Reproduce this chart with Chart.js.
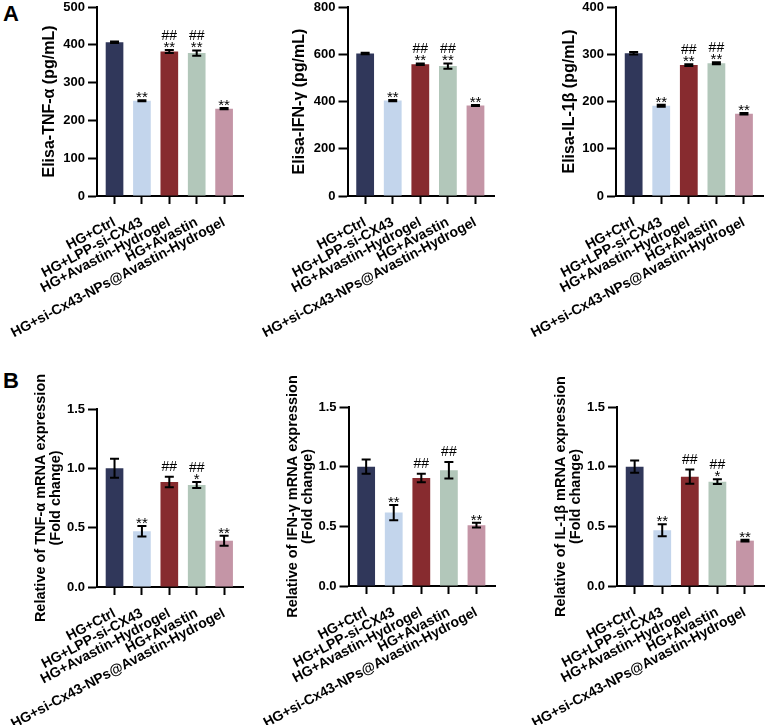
<!DOCTYPE html>
<html>
<head>
<meta charset="utf-8">
<script src="https://cdn.jsdelivr.net/npm/chart.js@4.4.1/dist/chart.umd.min.js"></script>
<style>
  body { margin: 0; background: #fff; width: 765px; height: 725px; overflow: hidden; position: relative; font-family: 'Liberation Sans', Arial, sans-serif; }
  canvas { position: absolute; }
  .letter { position: absolute; font-weight: bold; font-size: 22px; color: #000; }
</style>
</head>
<body>
<div class="letter" style="left:3px;top:1px">A</div>
<div class="letter" style="left:3px;top:368px">B</div>
<canvas id="a1"></canvas>
<canvas id="a2"></canvas>
<canvas id="a3"></canvas>
<canvas id="b1"></canvas>
<canvas id="b2"></canvas>
<canvas id="b3"></canvas>
<script>
// groups and colours
const groups = ['HG+Ctrl', 'HG+LPP-si-CX43', 'HG+Avastin-Hydrogel', 'HG+Avastin', 'HG+si-Cx43-NPs@Avastin-Hydrogel'];
const barColors = ['#30375a', '#c3d5ec', '#872b2f', '#b2c7ba', '#c495a6'];

// ELISA, pg/mL (mean, sd)
const elisaTnf = [407, 252, 382, 378, 231];
const elisaTnfSd = [2, 1.5, 4, 7, 1.5];
const elisaIfn = [603, 404, 558, 550, 383];
const elisaIfnSd = [3, 2.5, 3, 11, 2.5];
const elisaIl1b = [302, 191, 277, 281, 174];
const elisaIl1bSd = [2.5, 2, 2, 2, 1.5];

// qPCR, fold change (mean, sd)
const mrnaTnf = [1.00, 0.47, 0.885, 0.86, 0.39];
const mrnaTnfSd = [0.08, 0.045, 0.045, 0.025, 0.042];
const mrnaIfn = [1.00, 0.615, 0.905, 0.97, 0.51];
const mrnaIfnSd = [0.06, 0.063, 0.035, 0.07, 0.02];
const mrnaIl1b = [1.00, 0.467, 0.916, 0.874, 0.38];
const mrnaIl1bSd = [0.052, 0.05, 0.06, 0.02, 0.007];

// significance marks above bars
const starsElisa = ['', '**', '**', '**', '**'];
const starsTnfMrna = ['', '**', '', '*', '**'];
const starsIfnMrna = ['', '**', '', '', '**'];
const starsIl1bMrna = ['', '**', '', '*', '**'];
const hashes = ['', '', '##', '##', ''];

// y tick labels
const tnfElisaTicks = [0, 100, 200, 300, 400, 500];
const ifnElisaTicks = [0, 200, 400, 600, 800];
const il1bElisaTicks = [0, 100, 200, 300, 400];
const foldTicks = [0, 0.5, 1.0, 1.5];

Chart.defaults.font.family = "'Liberation Sans', Arial, sans-serif";
Chart.defaults.color = '#000';

// error bars + significance text
const sigBars = {
    id: 'sigBars',
    afterDatasetsDraw(chart, args, opts) {
        const ctx = chart.ctx;
        const yScale = chart.scales.y;
        const bars = chart.getDatasetMeta(0).data;
        const points = chart.data.datasets[0].data;
        ctx.save();
        ctx.strokeStyle = '#000';
        ctx.fillStyle = '#000';
        ctx.lineWidth = 2;
        ctx.textAlign = 'center';
        ctx.textBaseline = 'alphabetic';
        bars.forEach((bar, i) => {
            const v = points[i].y;
            const e = opts.sd[i];
            const top = yScale.getPixelForValue(v + e);
            const bot = yScale.getPixelForValue(v - e);
            const half = 4.5;
            ctx.beginPath();
            ctx.moveTo(bar.x, top); ctx.lineTo(bar.x, bot);
            ctx.moveTo(bar.x - half, top); ctx.lineTo(bar.x + half, top);
            ctx.moveTo(bar.x - half, bot); ctx.lineTo(bar.x + half, bot);
            ctx.stroke();

            let base = top - 6;
            if (opts.stars[i]) {
                ctx.font = "15px 'Liberation Sans', Arial, sans-serif";
                ctx.fillText(opts.stars[i], bar.x, top + 2);
                base = top - 10;
            }
            if (opts.hashes[i]) {
                ctx.font = "14px 'Liberation Sans', Arial, sans-serif";
                ctx.fillText(opts.hashes[i], bar.x, base);
            }
        });
        ctx.restore();
    }
};

function makePanel(id, box, values, sd, stars, ticks, title, decimals) {
    const canvas = document.getElementById(id);
    canvas.width = box.width;
    canvas.height = box.height;
    canvas.style.left = box.left + 'px';
    canvas.style.top = box.top + 'px';
    canvas.style.width = box.width + 'px';
    canvas.style.height = box.height + 'px';

    const multi = Array.isArray(title);
    const titleSize = multi ? 14.5 : 16;
    const lineH = multi ? 15 : 16;

    return new Chart(canvas, {
        type: 'bar',
        data: {
            datasets: [{
                data: values.map((v, i) => ({ x: i + 1, y: v })),
                backgroundColor: barColors,
                barPercentage: 0.645,
                categoryPercentage: 1
            }]
        },
        options: {
            responsive: false,
            animation: false,
            layout: {
                padding: {
                    left: 0,
                    top: box.plotTop - box.top,
                    right: box.left + box.width - box.plotRight,
                    bottom: 0
                }
            },
            plugins: {
                legend: { display: false },
                tooltip: { enabled: false },
                sigBars: { sd, stars, hashes }
            },
            scales: {
                x: {
                    type: 'linear',
                    offset: false,
                    bounds: 'data',
                    min: 0.36,
                    max: 5.69,
                    afterBuildTicks: s => { s.ticks = groups.map((g, i) => ({ value: i + 1 })); },
                    afterFit: s => {
                        s.height = box.top + box.height - box.plotBottom;
                        s.paddingLeft = 0;
                        s.paddingRight = 0;
                    },
                    ticks: {
                        autoSkip: false,
                        minRotation: 28,
                        maxRotation: 28,
                        padding: 10,
                        color: '#000',
                        font: { size: 14, weight: 'bold' },
                        callback: v => groups[Math.round(v) - 1]
                    },
                    grid: { offset: false, drawOnChartArea: false, tickLength: 8, tickWidth: 2, tickColor: '#000' },
                    border: { color: '#000', width: 2 }
                },
                y: {
                    min: ticks[0],
                    max: ticks[ticks.length - 1],
                    afterBuildTicks: s => { s.ticks = ticks.map(v => ({ value: v })); },
                    afterFit: s => {
                        s.width = box.axisX - box.left;
                        s.paddingTop = 0;
                        s.paddingBottom = 0;
                    },
                    ticks: {
                        padding: 3,
                        color: '#000',
                        font: { size: 13, weight: 'bold' },
                        callback: v => v.toFixed(decimals)
                    },
                    grid: { drawOnChartArea: false, tickLength: 9, tickWidth: 2, tickColor: '#000' },
                    border: { color: '#000', width: 2 },
                    title: {
                        display: true,
                        text: title,
                        color: '#000',
                        font: { size: titleSize, weight: 'bold', lineHeight: lineH / titleSize },
                        padding: { top: box.titleCenter - box.left - lineH / 2, bottom: 0 }
                    }
                }
            }
        },
        plugins: [sigBars]
    });
}

// panel placement on the page
const layoutA1 = { left: 0, top: 0, width: 250, height: 360, axisX: 97, plotRight: 243, plotTop: 7, plotBottom: 196, titleCenter: 49.5 };
const layoutA2 = { left: 250, top: 0, width: 250, height: 360, axisX: 347.5, plotRight: 494.5, plotTop: 7, plotBottom: 196, titleCenter: 299.5 };
const layoutA3 = { left: 519, top: 0, width: 246, height: 360, axisX: 616, plotRight: 763, plotTop: 7, plotBottom: 196, titleCenter: 569.5 };
const layoutB1 = { left: 0, top: 360, width: 250, height: 365, axisX: 97, plotRight: 243, plotTop: 409, plotBottom: 587, titleCenter: 41 };
const layoutB2 = { left: 250, top: 360, width: 250, height: 365, axisX: 348.5, plotRight: 495.5, plotTop: 407, plotBottom: 586, titleCenter: 292.5 };
const layoutB3 = { left: 519, top: 360, width: 246, height: 365, axisX: 617, plotRight: 764, plotTop: 407, plotBottom: 586, titleCenter: 561 };

makePanel('a1', layoutA1, elisaTnf, elisaTnfSd, starsElisa, tnfElisaTicks, 'Elisa-TNF-α (pg/mL)', 0);
makePanel('a2', layoutA2, elisaIfn, elisaIfnSd, starsElisa, ifnElisaTicks, 'Elisa-IFN-γ (pg/mL)', 0);
makePanel('a3', layoutA3, elisaIl1b, elisaIl1bSd, starsElisa, il1bElisaTicks, 'Elisa-IL-1β (pg/mL)', 0);
makePanel('b1', layoutB1, mrnaTnf, mrnaTnfSd, starsTnfMrna, foldTicks, ['Relative of TNF-α mRNA expression', '(Fold change)'], 1);
makePanel('b2', layoutB2, mrnaIfn, mrnaIfnSd, starsIfnMrna, foldTicks, ['Relative of IFN-γ mRNA expression', '(Fold change)'], 1);
makePanel('b3', layoutB3, mrnaIl1b, mrnaIl1bSd, starsIl1bMrna, foldTicks, ['Relative of IL-1β mRNA expression', '(Fold change)'], 1);
</script>
</body>
</html>
